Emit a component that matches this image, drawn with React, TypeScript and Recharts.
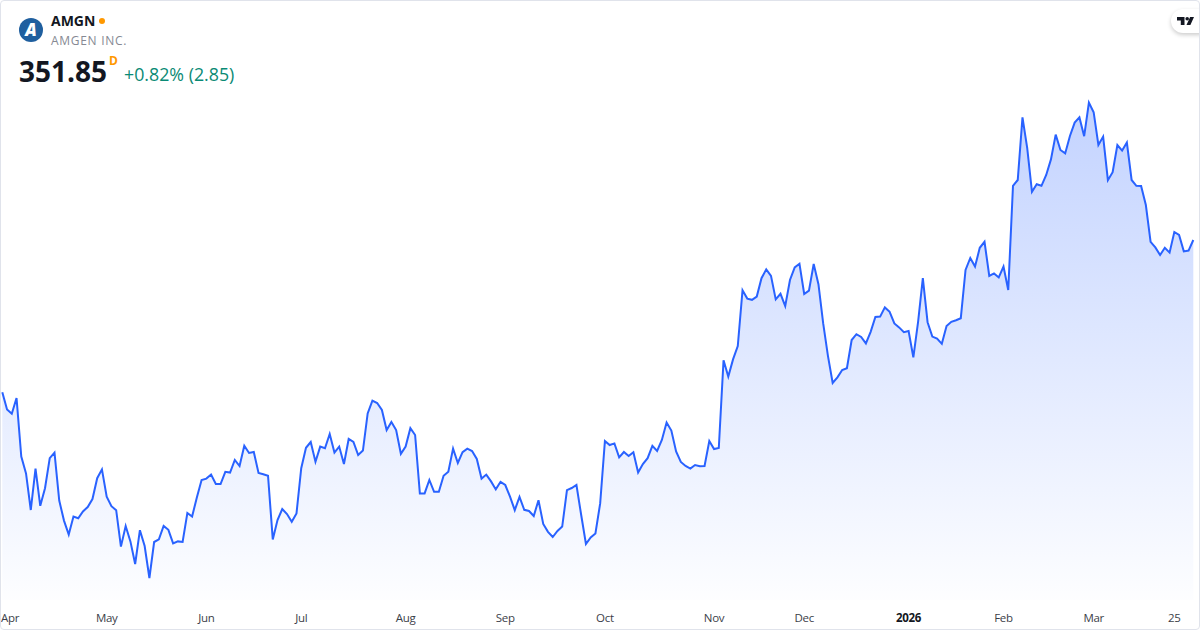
import { AreaChart, Area, XAxis, YAxis } from 'recharts';

// daily closes (first session in Apr, last one 351.85)
const closes = [
  313.8, 309.5, 308.4, 312.35, 297.7, 293.5, 284.35, 294.7, 285.4, 289.8, 297.3, 298.7,
  286.7, 281.7, 278.2, 282.7, 282.3, 284.0, 285.1, 287.1, 292.3, 294.5, 287.7, 285.3,
  284.3, 275.2, 280.35, 276.5, 270.85, 279.3, 275.35, 267.35, 276.35, 277.0, 280.35, 279.4,
  276.0, 276.5, 276.35, 283.6, 282.7, 287.5, 291.85, 292.2, 293.2, 290.85, 290.85, 293.9,
  293.7, 296.85, 295.35, 300.4, 298.6, 298.85, 293.6, 293.3, 292.9, 277.0, 281.85, 284.6,
  283.35, 281.4, 283.5, 294.8, 299.9, 301.35, 296.4, 300.2, 299.8, 303.35, 298.7, 300.2,
  295.85, 302.1, 301.35, 298.1, 299.2, 308.5, 311.7, 311.1, 309.35, 304.35, 306.35, 304.35,
  298.4, 300.2, 304.8, 303.1, 288.5, 288.5, 291.85, 288.9, 288.9, 292.9, 293.9, 299.7,
  296.1, 298.8, 299.7, 299.1, 297.1, 292.2, 293.2, 291.5, 289.5, 291.4, 290.6, 287.7,
  284.3, 287.6, 284.4, 284.1, 282.85, 286.8, 280.85, 278.9, 277.6, 279.1, 280.2, 289.3,
  289.85, 290.6, 283.1, 275.85, 277.5, 278.5, 286.0, 301.6, 300.6, 301.0, 297.5, 298.85,
  297.85, 298.8, 293.7, 295.85, 297.3, 300.4, 299.1, 301.85, 306.2, 304.2, 299.0, 296.35,
  295.35, 294.7, 295.6, 295.3, 295.35, 301.6, 299.6, 299.85, 321.8, 317.7, 322.0, 325.35,
  339.3, 337.2, 336.9, 337.7, 342.3, 344.5, 342.9, 337.0, 338.4, 335.35, 341.85, 345.0,
  345.9, 338.35, 339.2, 345.85, 340.8, 331.0, 322.9, 316.1, 317.5, 319.35, 319.8, 326.85,
  328.3, 327.6, 326.0, 328.9, 332.6, 332.7, 335.0, 333.9, 331.0, 330.0, 328.8, 329.1,
  322.5, 331.4, 342.3, 331.3, 327.7, 327.2, 325.9, 330.35, 331.4, 331.8, 332.3, 344.35,
  347.35, 345.2, 349.9, 351.4, 342.85, 343.5, 342.5, 345.2, 339.35, 365.4, 366.85, 382.5,
  374.8, 363.9, 365.8, 365.4, 368.1, 372.0, 378.2, 374.35, 373.5, 377.85, 381.2, 382.5,
  377.8, 386.2, 383.8, 375.6, 377.7, 366.8, 368.8, 375.6, 374.2, 376.2, 366.85, 365.4,
  365.35, 360.6, 351.4, 350.0, 348.1, 349.9, 348.7, 353.85, 353.1, 349.0, 349.2, 351.85,
];

const tickSessions = [0, 22, 43, 63, 85, 106, 127, 150, 169, 191, 211, 230, 247];
const tickLabels = ['Apr', 'May', 'Jun', 'Jul', 'Aug', 'Sep', 'Oct', 'Nov', 'Dec', '2026', 'Feb', 'Mar', '25'];

const chartData = closes.map((close, session) => ({ session, close }));

const font = '"Open Sans", sans-serif';

function DateTick({ x, y, payload }: any) {
  const idx = tickSessions.indexOf(payload.value);
  const label = tickLabels[idx];
  return (
    <text
      x={idx === 0 ? 1 : x}
      y={y}
      dy={16}
      textAnchor={idx === 0 ? 'start' : 'middle'}
      fontFamily={font}
      fontSize={11.5}
      letterSpacing={-0.3}
      fontWeight={label === '2026' ? 700 : 400}
      fill={label === '2026' ? '#131722' : '#3b3e48'}
    >
      {label}
    </text>
  );
}

export default function App() {
  return (
    <div style={{ position: 'absolute', left: 0, top: 0, width: 1200, height: 630, background: '#fff', overflow: 'hidden', fontFamily: font }}>
      <AreaChart
        width={1200}
        height={630}
        data={chartData}
        margin={{ top: 0, right: 6.7, bottom: 0, left: 2.3 }}
        style={{ position: 'absolute', left: 0, top: 0 }}
      >
        <defs>
          <linearGradient id="areaFill" x1="0" y1="0" x2="0" y2="1">
            <stop offset="0%" stopColor="#2962ff" stopOpacity={0.28} />
            <stop offset="100%" stopColor="#2962ff" stopOpacity={0.01} />
          </linearGradient>
        </defs>
        <XAxis
          dataKey="session"
          type="number"
          domain={[0, 251]}
          ticks={tickSessions}
          interval={0}
          axisLine={false}
          tickLine={false}
          height={30}
          tickMargin={0}
          tick={<DateTick />}
        />
        <YAxis hide domain={[261.85, 411.85]} />
        <Area
          type="linear"
          dataKey="close"
          stroke="#2962ff"
          strokeWidth={2}
          fill="url(#areaFill)"
          fillOpacity={1}
          dot={false}
          activeDot={false}
          isAnimationActive={false}
        />
      </AreaChart>

      {/* header */}
      <div style={{ position: 'absolute', left: 19, top: 18, width: 24, height: 24, borderRadius: 12, background: '#1f5f9f', color: '#fff', fontSize: 17, fontWeight: 800, fontStyle: 'italic', lineHeight: '24px', textAlign: 'center' }}>A</div>
      <div style={{ position: 'absolute', left: 51, top: 12, fontSize: 14, fontWeight: 700, lineHeight: '18px', color: '#131722' }}>AMGN</div>
      <div style={{ position: 'absolute', left: 99, top: 18, width: 6, height: 6, borderRadius: 3, background: '#ff9800' }} />
      <div style={{ position: 'absolute', left: 51, top: 33, fontSize: 12, lineHeight: '16px', letterSpacing: 0.7, color: '#868993' }}>AMGEN INC.</div>
      <div style={{ position: 'absolute', left: 19, top: 52, fontSize: 28, fontWeight: 700, lineHeight: '38px', color: '#131722' }}>351.85</div>
      <div style={{ position: 'absolute', left: 109, top: 54, fontSize: 12, fontWeight: 700, lineHeight: '14px', color: '#ff9800' }}>D</div>
      <div style={{ position: 'absolute', left: 124, top: 62, fontSize: 17.8, lineHeight: '24px', color: '#0a8a75' }}>+0.82% (2.85)</div>

      {/* logo chip */}
      <div style={{ position: 'absolute', left: 1171, top: 9, width: 40, height: 24, borderRadius: 12, background: '#fff', boxShadow: '0 2px 4px rgba(0,0,0,0.2)' }}>
        <svg width={17} height={8} viewBox="0 0 17 8" style={{ position: 'absolute', left: 6, top: 8 }}>
          <path d="M0 0h7.5v8H3.8V3.6H0z M9.5 8l3.6-8H17l-3.6 8z" fill="#131722" />
          <circle cx={10.2} cy={1.8} r={1.8} fill="#131722" />
        </svg>
      </div>

      {/* frame */}
      <div style={{ position: 'absolute', left: 0, top: 0, width: 1200, height: 630, boxSizing: 'border-box', border: '1px solid #e0e3eb', borderRadius: 4, pointerEvents: 'none' }} />
    </div>
  );
}
